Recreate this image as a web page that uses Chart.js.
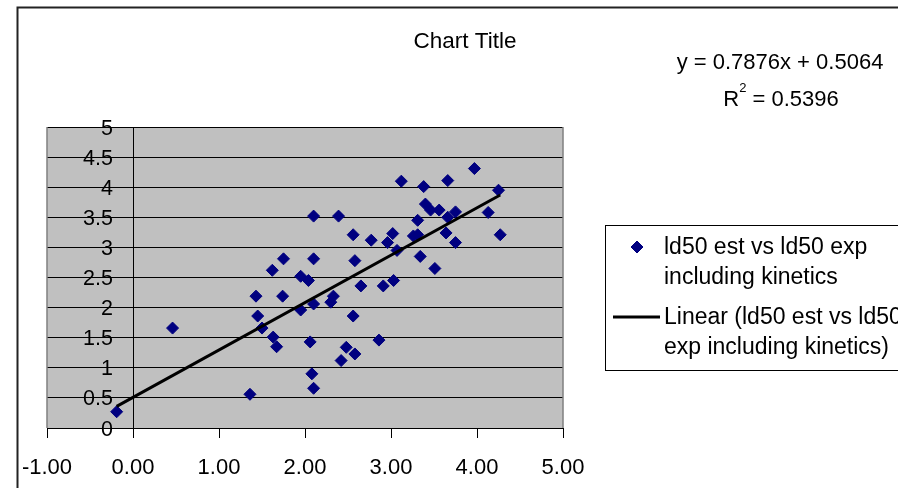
<!DOCTYPE html>
<html>
<head>
<meta charset="utf-8">
<title>ld50 est vs ld50 exp</title>
<script src="https://cdn.jsdelivr.net/npm/chart.js@4.4.1/dist/chart.umd.min.js"></script>
<style>
  html, body { margin: 0; padding: 0; background: #fff; }
  #wrap { width: 898px; height: 488px; }
</style>
</head>
<body>
<div id="wrap"><canvas id="chart" width="898" height="488"></canvas></div>
<script>
// values
const xValues = [-0.19, 0.46, 1.36, 1.45, 1.50, 1.63, 1.67, 1.43, 1.62, 1.75,
  1.74, 1.95, 2.04, 1.95, 2.10, 2.30, 2.33, 2.10, 2.10, 2.39,
  2.56, 2.58, 2.65, 2.56, 2.06, 2.08, 2.10, 2.42, 2.48, 2.58,
  2.86, 2.77, 2.91, 3.03, 3.07, 2.96, 3.02, 3.26, 3.31, 3.34,
  3.51, 3.31, 3.40, 3.46, 3.56, 3.66, 3.75, 3.64, 3.75, 3.12,
  3.38, 3.66, 3.97, 4.25, 4.13, 4.27];
const yValues = [0.27, 1.66, 0.56, 1.86, 1.66, 1.51, 1.35, 2.19, 2.62, 2.81,
  2.19, 2.52, 2.45, 1.96, 2.06, 2.09, 2.19, 2.81, 3.52, 3.52,
  3.21, 2.78, 2.36, 1.86, 1.43, 0.90, 0.66, 1.12, 1.34, 1.23,
  1.46, 3.12, 2.36, 2.45, 2.95, 3.08, 3.23, 3.19, 3.21, 2.85,
  2.65, 3.45, 3.72, 3.62, 3.62, 3.50, 3.59, 3.24, 3.08, 4.10,
  4.01, 4.11, 4.31, 3.95, 3.58, 3.21];

// trendline end points
const trendX = [-0.19, 4.27];
const trendY = [0.36, 3.87];

const xTickLabels = ["-1.00", "0.00", "1.00", "2.00", "3.00", "4.00", "5.00"];
const yTickLabels = ["0", "0.5", "1", "1.5", "2", "2.5", "3", "3.5", "4", "4.5", "5"];

const chartTitle = "Chart Title";
const equationText = "y = 0.7876x + 0.5064";
const rSquaredText = "0.5396";
const seriesLabel = ["ld50 est vs ld50 exp", "including kinetics"];
const trendLabel = ["Linear (ld50 est vs ld50", "exp including kinetics)"];

const FONT = "'Liberation Sans', Arial, sans-serif";
const NAVY = "#000080";

const points = xValues.map((x, i) => ({ x: x, y: yValues[i] }));
const trend = trendX.map((x, i) => ({ x: x, y: trendY[i] }));

// gray plot area, outer frame, y labels, title, equation and legend
const decorations = {
  id: "decorations",
  beforeDraw(chart) {
    const { ctx, chartArea: a } = chart;
    ctx.save();
    ctx.fillStyle = "#fff";
    ctx.fillRect(0, 0, chart.width, chart.height);
    ctx.fillStyle = "#c0c0c0";
    ctx.fillRect(a.left, a.top, a.right - a.left, a.bottom - a.top);
    ctx.restore();
  },
  beforeDatasetsDraw(chart) {
    const { ctx, chartArea: a } = chart;
    ctx.save();
    ctx.strokeStyle = "#808080";
    ctx.lineWidth = 1.5;
    ctx.beginPath();
    ctx.moveTo(a.left, a.top);
    ctx.lineTo(a.left, a.bottom);
    ctx.moveTo(a.right, a.top);
    ctx.lineTo(a.right, a.bottom);
    ctx.stroke();
    ctx.restore();
  },
  afterDraw(chart) {
    const ctx = chart.ctx;
    const yScale = chart.scales.y;
    ctx.save();

    // outer chart frame (cut off on the right and bottom)
    ctx.strokeStyle = "#222";
    ctx.lineWidth = 2;
    ctx.strokeRect(17.5, 7.5, 2000, 2000);

    ctx.fillStyle = "#000";
    ctx.textBaseline = "alphabetic";

    // y tick labels sit left of the axis that crosses at x = 0
    ctx.font = "21.5px " + FONT;
    ctx.textAlign = "right";
    yScale.ticks.forEach((t, i) => {
      ctx.fillText(yTickLabels[i], 113, yScale.getPixelForValue(t.value) + 7.5);
    });

    ctx.textAlign = "center";
    ctx.font = "22.5px " + FONT;
    ctx.fillText(chartTitle, 465, 48);
    ctx.font = "22px " + FONT;
    ctx.fillText(equationText, 780, 69);

    // R² = ...
    const rest = " = " + rSquaredText;
    ctx.textAlign = "left";
    const wR = ctx.measureText("R").width;
    const wRest = ctx.measureText(rest).width;
    ctx.font = "13px " + FONT;
    const wSup = ctx.measureText("2").width;
    const sx = 781 - (wR + wSup + wRest) / 2;
    ctx.font = "22px " + FONT;
    ctx.fillText("R", sx, 106);
    ctx.font = "13px " + FONT;
    ctx.fillText("2", sx + wR, 92);
    ctx.font = "22px " + FONT;
    ctx.fillText(rest, sx + wR + wSup, 106);

    // legend box
    ctx.strokeStyle = "#000";
    ctx.lineWidth = 1;
    ctx.strokeRect(605.5, 225.5, 400, 145);

    ctx.fillStyle = NAVY;
    ctx.strokeStyle = NAVY;
    Chart.helpers.drawPoint(ctx, { pointStyle: "rectRot", radius: 6, borderWidth: 1, rotation: 0 }, 637, 247);

    ctx.strokeStyle = "#000";
    ctx.lineWidth = 3;
    ctx.beginPath();
    ctx.moveTo(613, 317);
    ctx.lineTo(660, 317);
    ctx.stroke();

    ctx.fillStyle = "#000";
    ctx.font = "23px " + FONT;
    ctx.textAlign = "left";
    ctx.fillText(seriesLabel[0], 664, 254);
    ctx.fillText(seriesLabel[1], 664, 284);
    ctx.fillText(trendLabel[0], 664, 324);
    ctx.fillText(trendLabel[1], 664, 354);

    ctx.restore();
  }
};

const ctx = document.getElementById("chart").getContext("2d");

const chart = new Chart(ctx, {
  type: "scatter",
  data: {
    datasets: [
      {
        label: trendLabel.join(" "),
        data: trend,
        showLine: true,
        borderColor: "#000",
        borderWidth: 3,
        pointRadius: 0,
        fill: false,
        order: 0
      },
      {
        label: seriesLabel.join(" "),
        data: points,
        pointStyle: "rectRot",
        pointRadius: 6,
        pointHoverRadius: 6,
        backgroundColor: NAVY,
        borderColor: NAVY,
        borderWidth: 1,
        order: 1
      }
    ]
  },
  options: {
    responsive: false,
    devicePixelRatio: 1,
    animation: false,
    layout: {
      padding: { left: 47, top: 127, right: 335, bottom: 60 }
    },
    plugins: {
      legend: { display: false },
      title: { display: false },
      tooltip: { enabled: false }
    },
    scales: {
      x: {
        type: "linear",
        position: { y: 0 },
        min: -1,
        max: 5,
        ticks: {
          stepSize: 1,
          padding: 18,
          color: "#000",
          font: { family: FONT, size: 22 },
          callback: (value) => xTickLabels[Math.round(value + 1)]
        },
        grid: { drawOnChartArea: false, drawTicks: true, tickLength: 9, color: "#000" },
        border: { display: true, color: "#000", width: 1 }
      },
      y: {
        type: "linear",
        position: { x: 0 },
        min: 0,
        max: 5,
        ticks: {
          stepSize: 0.5,
          display: false
        },
        grid: { color: "#000", lineWidth: 1, drawTicks: true, tickLength: 7 },
        border: { display: true, color: "#000", width: 1 }
      }
    }
  },
  plugins: [decorations]
});
</script>
</body>
</html>
